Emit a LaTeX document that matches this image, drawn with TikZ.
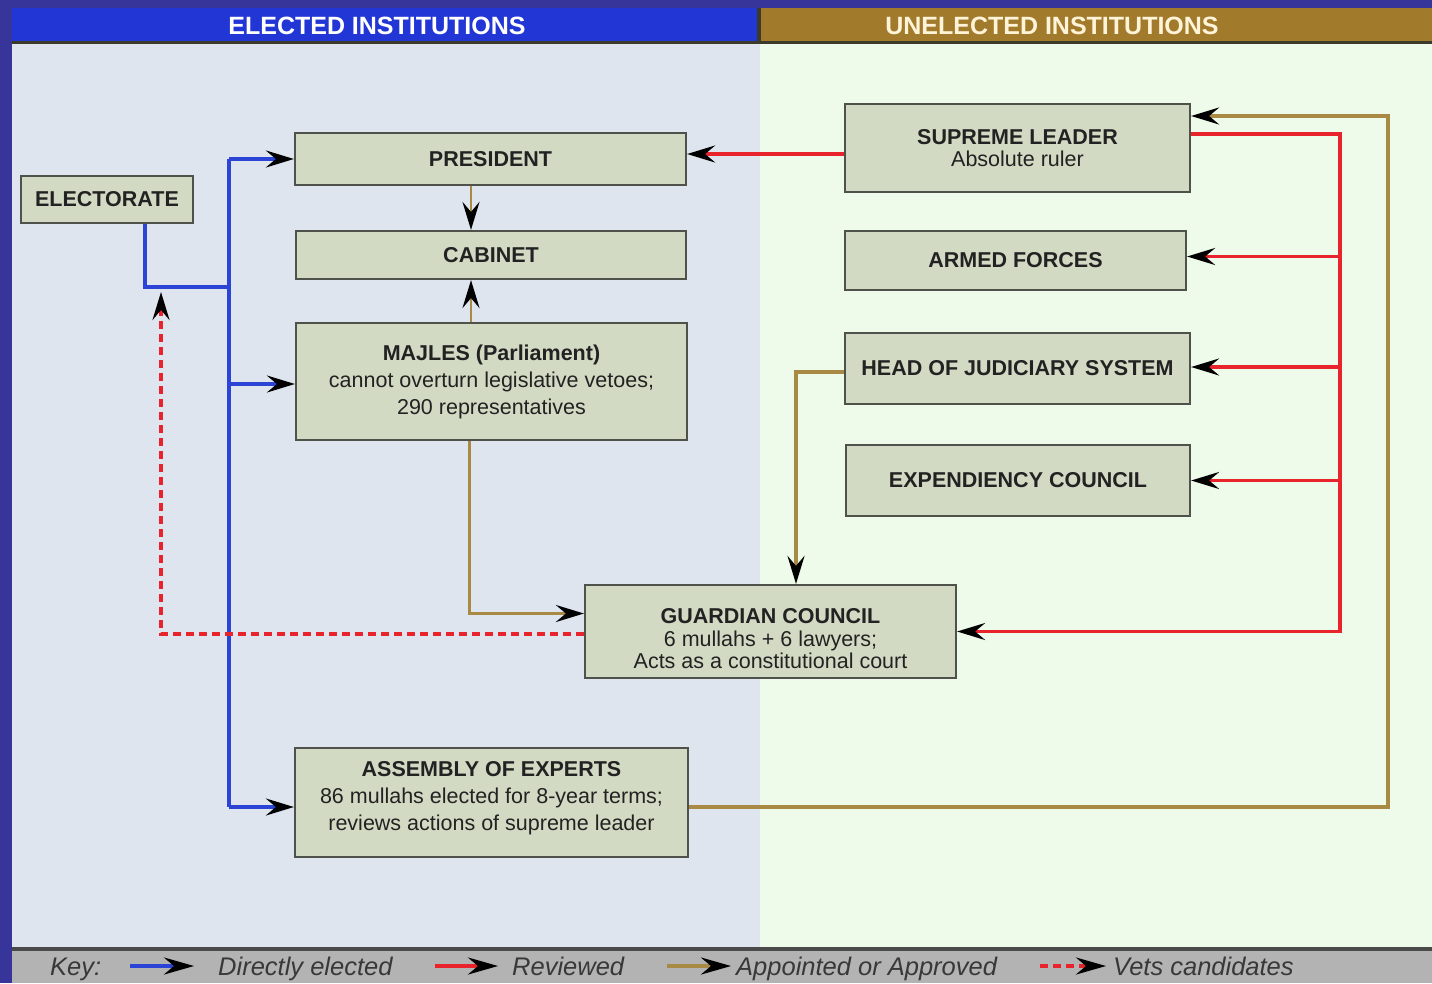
\documentclass[tikz,border=0pt]{standalone}
\usepackage{fontspec}
\setmainfont{Liberation Sans}
\usetikzlibrary{arrows.meta,calc}
\definecolor{frame}{HTML}{38359A}
\definecolor{hblue}{HTML}{2236D6}
\definecolor{hbrown}{HTML}{A27A2C}
\definecolor{hdark}{HTML}{3C3A2A}
\definecolor{leftbg}{HTML}{DEE5EE}
\definecolor{rightbg}{HTML}{EEFAEA}
\definecolor{boxfill}{HTML}{D3DAC4}
\definecolor{boxline}{HTML}{4F524A}
\definecolor{keygray}{HTML}{B3B3B3}
\definecolor{keyline}{HTML}{4A4A4A}
\definecolor{lblue}{HTML}{2B44D6}
\definecolor{lred}{HTML}{E8232B}
\definecolor{lbrown}{HTML}{A88A45}
\definecolor{txt}{HTML}{222222}
\definecolor{keytxt}{HTML}{383838}
\begin{document}
\begin{tikzpicture}[x=1pt,y=-1pt,
  box/.style={draw=boxline, fill=boxfill, line width=2.2pt, inner sep=0pt, align=center, text=txt,
    font=\fontsize{21.5}{27}\selectfont},
  tight/.style={font=\fontsize{21.5}{22.5}\selectfont},
  tip/.style={-{Stealth[length=28pt,width=17pt,inset=10pt,black]}},
  ktip/.style={-{Stealth[length=30pt,width=17pt,inset=10pt,black]}},
  conn/.style={line width=3.4pt},
  el/.style={conn, lblue},
  rv/.style={conn, lred},
  ap/.style={conn, lbrown},
  vets/.style={conn, lred, dash pattern=on 8pt off 5pt},
  hdr/.style={font=\fontsize{25}{25}\selectfont\bfseries, inner sep=0pt},
  keyt/.style={font=\fontsize{25.5}{26}\selectfont\itshape, text=keytxt, inner sep=0pt, anchor=base west}
]
\useasboundingbox (0,0) rectangle (1432,983);
% backgrounds
\fill[frame] (0,0) rectangle (1432,983);
\fill[leftbg] (12,44) rectangle (760,948);
\fill[rightbg] (760,44) rectangle (1432,948);
\fill[hblue] (12,8) rectangle (758,44);
\fill[hbrown] (760,8) rectangle (1432,44);
\fill[hdark] (12,41) rectangle (1432,44);
\fill[hdark] (757,8) rectangle (761,44);
\fill[keygray] (12,948) rectangle (1432,983);
\fill[keyline] (12,947) rectangle (1432,951);
\node[hdr, text=white] (hleft) at (377,26) {ELECTED INSTITUTIONS};
\node[hdr, text={rgb,255:red,255;green,244;blue,216}] (hright) at (1052,26) {UNELECTED INSTITUTIONS};

% boxes
\node[box, minimum width=172, minimum height=47] (elect) at (107,199.5) {\bfseries ELECTORATE};
\node[box, minimum width=391, minimum height=52] (pres) at (490.5,159) {\bfseries PRESIDENT};
\node[box, minimum width=390, minimum height=48] (cab) at (491,255) {\bfseries CABINET};
\node[box, minimum width=391, minimum height=117] (majles) at (491.5,381.5)
  {\bfseries MAJLES (Parliament)\\ cannot overturn legislative vetoes;\\ 290 representatives};
\node[box, tight, minimum width=371, minimum height=93] (guard) at (770.5,631.5)
  {\rule{0pt}{30pt}\bfseries GUARDIAN COUNCIL\\ 6 mullahs + 6 lawyers;\\ Acts as a constitutional court};
\node[box, minimum width=393, minimum height=109] (assem) at (491.5,802.5)
  {\bfseries ASSEMBLY OF EXPERTS\\ 86 mullahs elected for 8-year terms;\\ reviews actions of supreme leader\rule[-13pt]{0pt}{1pt}};
\node[box, tight, minimum width=345, minimum height=88] (sup) at (1017.5,148)
  {\bfseries SUPREME LEADER\\ Absolute ruler};
\node[box, minimum width=341, minimum height=59] (armed) at (1015.5,260.5) {\bfseries ARMED FORCES};
\node[box, minimum width=345, minimum height=71] (judic) at (1017.5,368.5) {\bfseries HEAD OF JUDICIARY SYSTEM};
\node[box, minimum width=344, minimum height=71] (expend) at (1018,480.5) {\bfseries EXPENDIENCY COUNCIL};

% helper coordinates
\coordinate (trunk) at (229,0);
\coordinate (ej) at (229,287);
\coordinate (vet) at (161,292);
\coordinate (cx) at (471,0);
\coordinate (rtr) at (1340,0);
\coordinate (atr) at (1388,0);
\coordinate (gx) at (796,0);

% directly elected
\draw[el] ($(elect.south)+(38,0)$) |- (ej);
\draw[el] (pres.west -| trunk) -- (assem.west -| trunk) -- ++(0,4.5);
\draw[el, tip] (pres.west -| trunk) -- (pres.west);
\draw[el, tip] ([yshift=-2.5pt]majles.west -| trunk) -- ([yshift=-2.5pt]majles.west);
\draw[el, tip] ([yshift=-4.5pt]assem.west -| trunk) -- ([yshift=-4.5pt]assem.west);

% president/majles -> cabinet
\draw[ap, line width=2.4pt, tip] (pres.south -| cx) -- (cab.north -| cx);
\draw[ap, line width=2.4pt, tip] (majles.north -| cx) -- (cab.south -| cx);

% majles -> guardian
\draw[ap, tip] ($(majles.south)+(-22,0)$) |- ([yshift=18pt]guard.west);

% vets candidates
\draw[vets, tip] ([yshift=-2.5pt]guard.west) -| (vet);

% supreme leader reviews president
\draw[rv, tip] ([yshift=-6pt]sup.west) -- ([yshift=-6pt]sup.west -| pres.east);

% reviewed trunk
\draw[rv, tip] ([yshift=14pt]sup.east) -| (guard.east -| rtr) -- (guard.east);
\draw[rv, tip] ([yshift=4pt]armed.east -| rtr) -- ([yshift=4pt]armed.east);
\draw[rv, tip] ([yshift=1.5pt]judic.east -| rtr) -- ([yshift=1.5pt]judic.east);
\draw[rv, tip] (expend.east -| rtr) -- (expend.east);

% judiciary -> guardian
\draw[ap, tip] ([yshift=-3.5pt]judic.west) -| (guard.north -| gx);

% assembly -> supreme leader
\draw[ap, tip] ([yshift=-4.5pt]assem.east) -| ([yshift=32pt]sup.east -| atr) -- ([yshift=32pt]sup.east);

% key
\node[keyt] (kkey) at (50,975) {Key:};
\coordinate (k1a) at (130,966); \coordinate (k1b) at (194,966);
\draw[el, ktip] (k1a) -- (k1b);
\node[keyt] (kdir) at (218,975) {Directly elected};
\coordinate (k2a) at (435,966); \coordinate (k2b) at (498,966);
\draw[rv, ktip] (k2a) -- (k2b);
\node[keyt] (krev) at (512,975) {Reviewed};
\coordinate (k3a) at (667,966); \coordinate (k3b) at (731,966);
\draw[ap, ktip] (k3a) -- (k3b);
\node[keyt] (kapp) at (736,975) {Appointed or Approved};
\coordinate (k4a) at (1040,966); \coordinate (k4b) at (1106,966);
\draw[vets, ktip] (k4a) -- (k4b);
\node[keyt] (kvet) at (1113,975) {Vets candidates};
\end{tikzpicture}
\end{document}
